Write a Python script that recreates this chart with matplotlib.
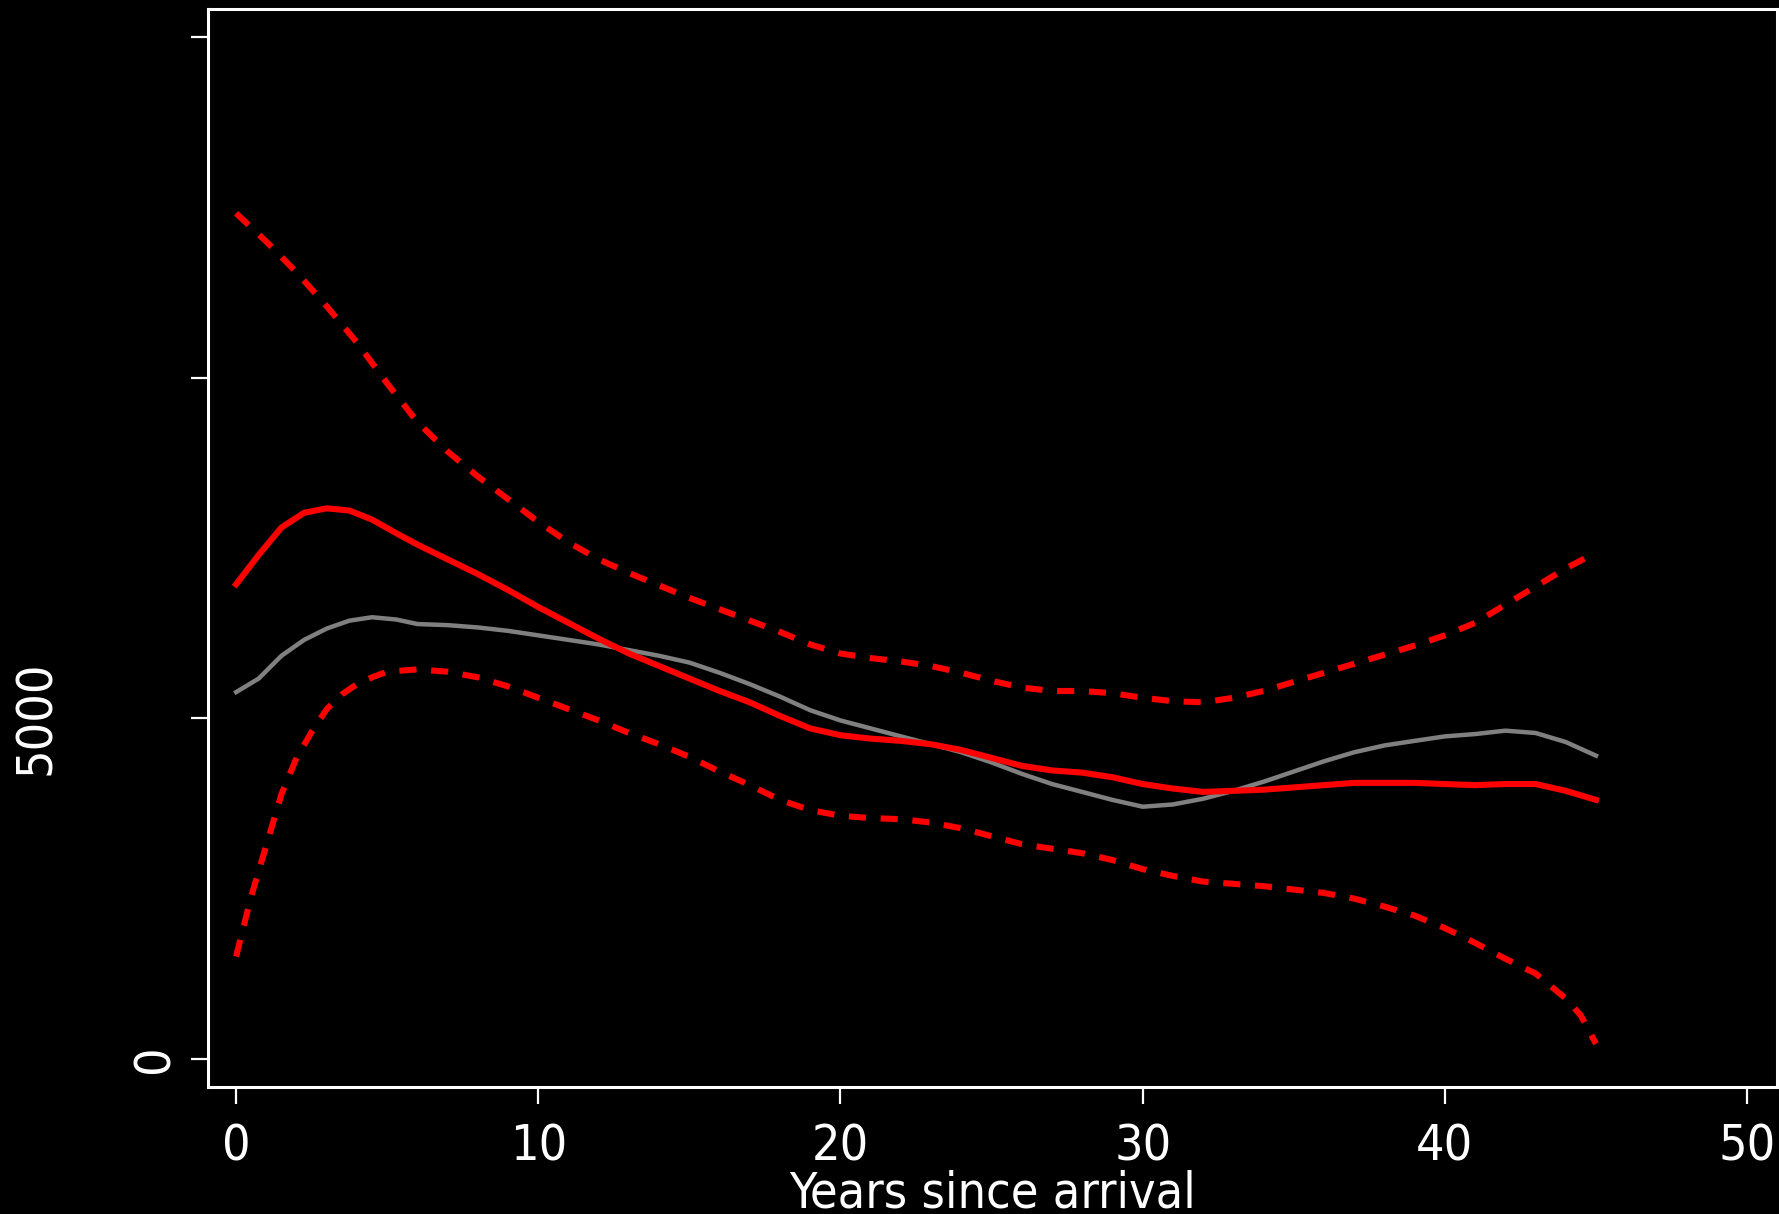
import matplotlib
matplotlib.use("Agg")
import matplotlib.pyplot as plt
from matplotlib import font_manager as fm

# ---------------- data ----------------
years_fine = [0, 0.75, 1.5, 2.25, 3, 3.75, 4.5, 5.3, 6, 7, 8, 9, 10, 11, 12, 13, 14, 15,
              16, 17, 18, 19, 20, 21, 22, 23, 24, 25, 26, 27, 28, 29, 30, 31, 32, 33,
              34, 35, 36, 37, 38, 39, 40, 41, 42, 43, 44, 45]

fit_red = [6967, 7400, 7800, 8017, 8083, 8050, 7917, 7717, 7550, 7333, 7117, 6883, 6633,
           6400, 6167, 5950, 5767, 5583, 5400, 5233, 5033, 4850, 4750, 4700, 4667, 4617,
           4533, 4417, 4300, 4233, 4200, 4133, 4033, 3967, 3917, 3933, 3950, 3983, 4017,
           4050, 4050, 4050, 4033, 4017, 4033, 4033, 3933, 3800]

fit_gray = [5383, 5583, 5917, 6150, 6317, 6433, 6483, 6450, 6383, 6367, 6333, 6283, 6217,
            6150, 6083, 6000, 5917, 5817, 5667, 5500, 5317, 5117, 4967, 4850, 4733, 4617,
            4500, 4350, 4183, 4033, 3917, 3800, 3700, 3733, 3817, 3933, 4067, 4217, 4367,
            4500, 4600, 4667, 4733, 4767, 4817, 4783, 4650, 4450]

years_ci = [0, 1, 2, 3, 4, 5, 6, 7, 8, 9, 10, 11, 12, 13, 14, 15, 16, 17, 18, 19, 20, 21,
            22, 23, 24, 25, 26, 27, 28, 29, 30, 31, 32, 33, 34, 35, 36, 37, 38, 39, 40, 41,
            42, 43, 44, 45]
ci_upper = [12417, 12000, 11550, 11050, 10517, 9917, 9350, 8917, 8550, 8217, 7883, 7583,
            7333, 7133, 6950, 6767, 6600, 6433, 6267, 6083, 5950, 5883, 5833, 5767, 5667,
            5550, 5450, 5400, 5400, 5367, 5300, 5250, 5233, 5300, 5400, 5533, 5667, 5800,
            5933, 6067, 6217, 6400, 6667, 6933, 7200, 7433]

years_lo = [0, 0.5, 1, 1.5, 2, 2.5, 3, 3.5, 4, 4.5, 5, 6, 7, 8, 9, 10, 11, 12, 13, 14, 15,
            16, 17, 18, 19, 20, 21, 22, 23, 24, 25, 26, 27, 28, 29, 30, 31, 32, 33, 34, 35,
            36, 37, 38, 39, 40, 41, 42, 43, 44, 44.5, 45]
ci_lower = [1500, 2383, 3133, 3883, 4417, 4800, 5133, 5350, 5500, 5600, 5683, 5717, 5683,
            5600, 5467, 5300, 5133, 4967, 4783, 4617, 4433, 4217, 4017, 3800, 3650, 3567,
            3533, 3517, 3467, 3383, 3267, 3150, 3083, 3017, 2917, 2783, 2683, 2600, 2567,
            2533, 2483, 2433, 2350, 2233, 2100, 1917, 1700, 1467, 1250, 883, 633, 217]

x_ticks = [0, 10, 20, 30, 40, 50]
x_tick_labels = ["0", "10", "20", "30", "40", "50"]
y_ticks = [0, 5000, 10000, 15000]
y_tick_labels = ["0", "5000", "", ""]
x_title = "Years since arrival"

# ---------------- font ----------------
family = "DejaVu Sans"
stretch = "normal"
try:
    f = fm.findfont(fm.FontProperties(family="DejaVu Sans", stretch="condensed"),
                    fallback_to_default=False)
    if "Condensed" in f:
        stretch = "condensed"
except Exception:
    pass
if stretch != "condensed":
    try:
        f = fm.findfont(fm.FontProperties(family="Liberation Sans Narrow"),
                        fallback_to_default=False)
        if "Narrow" in f:
            family = "Liberation Sans Narrow"
    except Exception:
        pass
plt.rcParams["font.family"] = [family, "DejaVu Sans"]
plt.rcParams["font.stretch"] = stretch

FS = 36

# ---------------- figure ----------------
fig = plt.figure(figsize=(17.79, 12.14), dpi=100, facecolor="black")
ax = fig.add_axes([208 / 1779, 1 - 1087 / 1214, (1777 - 208) / 1779, (1087 - 9) / 1214])
ax.set_facecolor("black")

ax.plot(years_fine, fit_gray, color="#808080", lw=3.2, solid_joinstyle="round", zorder=3)
ax.plot(years_fine, fit_red, color="#ff0000", lw=4.4, solid_joinstyle="round", zorder=4)
ax.plot(years_ci, ci_upper, color="#ff0000", lw=4.4, dashes=(2.8, 2.4), zorder=4)
ax.plot(years_lo, ci_lower, color="#ff0000", lw=4.4, dashes=(2.8, 2.4), zorder=4)

ax.set_xlim(-0.93, 50.99)
ax.set_ylim(-417, 15417)

for s in ax.spines.values():
    s.set_color("white")
    s.set_linewidth(2.2)

ax.set_xticks(x_ticks)
ax.set_xticklabels(x_tick_labels)
ax.set_yticks(y_ticks)
ax.set_yticklabels(y_tick_labels, rotation=90, va="center")
ax.tick_params(axis="both", colors="white", length=12.5, width=1.6, labelsize=FS)
ax.tick_params(axis="x", pad=13)
ax.tick_params(axis="y", pad=9)
ax.yaxis.get_major_ticks()[1].set_pad(94)

ax.set_xlabel(x_title, color="white", fontsize=FS, labelpad=-1)

fig.savefig("out.png", dpi=100, facecolor="black")
